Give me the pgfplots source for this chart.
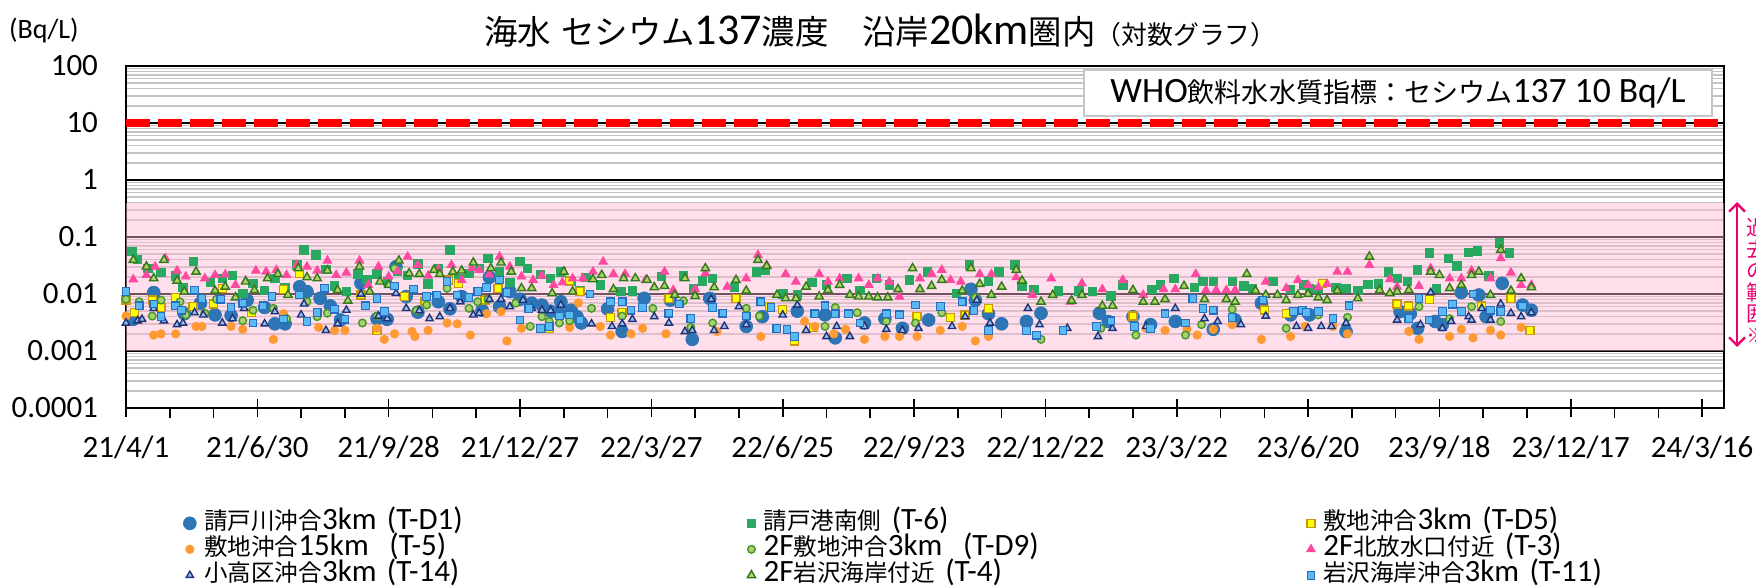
\documentclass[border=0pt]{standalone}
\usepackage{fontspec}
\setmainfont{Carlito}
\newfontfamily\cjk[Scale=0.76]{Noto Sans CJK JP}
\usepackage{pgfplots}
\pgfplotsset{compat=1.18}
\usetikzlibrary{arrows.meta}
\newcommand{\J}[1]{{\cjk #1}}
\definecolor{cA}{RGB}{46,117,182}
\definecolor{cB}{RGB}{40,168,96}
\definecolor{cCf}{RGB}{255,255,0}
\definecolor{cCd}{RGB}{200,150,20}
\definecolor{cD}{RGB}{255,153,51}
\definecolor{cEf}{RGB}{169,208,110}
\definecolor{cEd}{RGB}{70,150,40}
\definecolor{cF}{RGB}{255,72,160}
\definecolor{cGf}{RGB}{150,195,235}
\definecolor{cGd}{RGB}{35,50,120}
\definecolor{cHf}{RGB}{175,210,100}
\definecolor{cHd}{RGB}{50,120,30}
\definecolor{cIf}{RGB}{90,185,240}
\definecolor{cId}{RGB}{40,110,190}
\definecolor{gridgray}{RGB}{195,195,195}
\definecolor{bandpink}{RGB}{255,185,212}
\definecolor{annopink}{RGB}{235,0,110}
\begin{document}
\begin{tikzpicture}
\begin{axis}[
  at={(0,0)}, anchor=south west,
  width=799pt, height=171pt, scale only axis,
  xmin=0, xmax=1095, ymode=log, ymin=1e-4, ymax=100,
  axis line style={black, line width=1pt},
  xtick={0,90,...,1080},
  xticklabels={21/4/1,21/6/30,21/9/28,21/12/27,22/3/27,22/6/25,22/9/23,22/12/22,23/3/22,23/6/20,23/9/18,23/12/17,24/3/16},
  minor x tick num=2,
  xtick pos=left,
  tick align=center,
  major tick length=9pt,
  minor tick length=5pt,
  xtick style={black, line width=0.8pt},
  minor x tick style={yshift=-2.5pt},
  ytick={1e-4,1e-3,1e-2,1e-1,1,10,100},
  yticklabels={0.0001,0.001,0.01,0.1,1,10,100},
  minor ytick={2e-4,3e-4,4e-4,5e-4,6e-4,7e-4,8e-4,9e-4,2e-3,3e-3,4e-3,5e-3,6e-3,7e-3,8e-3,9e-3,0.02,0.03,0.04,0.05,0.06,0.07,0.08,0.09,0.2,0.3,0.4,0.5,0.6,0.7,0.8,0.9,2,3,4,5,6,7,8,9,20,30,40,50,60,70,80,90},
  ytick style={draw=none},
  ymajorgrids, yminorgrids,
  major grid style={black, line width=0.8pt},
  minor grid style={gridgray, line width=0.8pt},
  tick label style={font=\fontsize{15.5}{18}\selectfont},
  xticklabel style={yshift=-6pt},
  yticklabel style={xshift=-6pt},
  legend columns=3,
  legend image code/.code={\draw[#1] plot coordinates {(0pt,0pt)};},
  legend style={draw=none, fill=none, at={(0.0357,-0.298)}, anchor=north west,
    inner sep=0pt, row sep=0pt,
    /tikz/every odd column/.append style={column sep=4pt},
    nodes={text width=271.5pt, inner xsep=0pt, inner ysep=0pt, minimum height=13pt,
      text height=8.5pt, text depth=2.5pt,
      font=\fontsize{15.5}{15}\selectfont, align=left},
    cells={anchor=west}},
]
\fill[bandpink, opacity=0.45] (axis cs:0,0.001) rectangle (axis cs:1095,0.4);
\addplot[forget plot, red, line width=4.3pt, dash pattern=on 12pt off 4pt] coordinates {(0,10) (1095,10)};

% T-D1
\addplot[only marks, mark=*, mark size=3.2pt, draw=cA, fill=cA] coordinates {
(5,0.0036) (19,0.0106) (40,0.0045) (51,0.0069) (61,0.0043) (72,0.0042) (83,0.0078) (95,0.0058) (102,0.0030) (109,0.0030) (119,0.0134) (124,0.0110) (133,0.0084) (140,0.0062) (147,0.0035) (161,0.0154) (172,0.0037) (179,0.0036) (185,0.0300) (192,0.0090) (200,0.0048) (214,0.0073) (222,0.0055) (230,0.0090) (244,0.0052) (249,0.0196) (256,0.0060) (263,0.0110) (270,0.0081) (278,0.0069) (285,0.0064) (291,0.0050) (297,0.0046) (298,0.0073) (305,0.0052) (309,0.0040) (312,0.0031) (330,0.0055) (340,0.0022) (355,0.0084) (373,0.0078) (388,0.0016) (400,0.0084) (425,0.0027) (436,0.0040) (460,0.0050) (479,0.0043) (486,0.0017) (506,0.0031) (520,0.0037) (532,0.0025) (550,0.0035) (579,0.0121) (582,0.0078) (591,0.0045) (600,0.0030) (617,0.0033) (627,0.0046) (667,0.0046) (673,0.0033) (690,0.0040) (702,0.0029) (719,0.0033) (745,0.0024) (760,0.0035) (778,0.0069) (798,0.0043) (811,0.0043) (836,0.0022) (873,0.0049) (880,0.0045) (885,0.0025) (897,0.0033) (902,0.0029) (915,0.0106) (927,0.0096) (932,0.0040) (943,0.0154) (957,0.0064) (963,0.0052)};
\addlegendentry{\J{請戸川沖合}3km (T-D1)}
% T-6
\addplot[only marks, mark=square*, mark size=2.1pt, draw=cB, fill=cB] coordinates {
(4,0.0553) (8,0.0400) (15,0.0282) (24,0.0240) (34,0.0207) (39,0.0131) (46,0.0369) (58,0.0160) (66,0.0188) (73,0.0210) (80,0.0103) (87,0.0154) (95,0.0117) (102,0.0190) (109,0.0130) (117,0.0323) (122,0.0591) (130,0.0483) (137,0.0270) (143,0.0138) (151,0.0110) (159,0.0224) (165,0.0180) (172,0.0224) (179,0.0165) (186,0.0250) (193,0.0210) (200,0.0340) (207,0.0150) (214,0.0280) (222,0.0591) (228,0.0190) (235,0.0230) (242,0.0282) (248,0.0423) (256,0.0246) (263,0.0160) (270,0.0370) (275,0.0282) (284,0.0220) (291,0.0190) (298,0.0246) (305,0.0165) (311,0.0117) (315,0.0196) (325,0.0144) (339,0.0110) (347,0.0114) (367,0.0202) (382,0.0207) (389,0.0126) (395,0.0171) (402,0.0188) (417,0.0131) (432,0.0246) (438,0.0257) (450,0.0100) (460,0.0096) (470,0.0158) (480,0.0144) (494,0.0188) (503,0.0117) (514,0.0188) (523,0.0144) (537,0.0176) (549,0.0246) (569,0.0103) (578,0.0323) (591,0.0171) (598,0.0246) (609,0.0323) (614,0.0138) (622,0.0121) (639,0.0114) (653,0.0114) (662,0.0110) (675,0.0092) (683,0.0144) (703,0.0121) (709,0.0144) (718,0.0188) (732,0.0131) (738,0.0165) (745,0.0165) (758,0.0165) (766,0.0138) (772,0.0126) (786,0.0165) (798,0.0121) (807,0.0144) (811,0.0126) (817,0.0121) (829,0.0131) (836,0.0126) (844,0.0117) (851,0.0148) (858,0.0150) (865,0.0246) (871,0.0188) (878,0.0165) (885,0.0264) (893,0.0530) (898,0.0126) (906,0.0423) (912,0.0310) (920,0.0540) (926,0.0570) (934,0.0207) (941,0.0790) (948,0.0530)};
\addlegendentry{\J{請戸港南側} (T-6)}
% T-D5
\addplot[only marks, mark=square*, mark size=2.0pt, draw=cCd, fill=cCf, mark options={line width=0.7pt}] coordinates {
(0,0.0078) (6,0.0047) (18,0.0078) (24,0.0058) (34,0.0087) (46,0.0060) (60,0.0067) (66,0.0126) (86,0.0047) (108,0.0121) (119,0.0230) (161,0.0096) (172,0.0023) (191,0.0090) (205,0.0073) (221,0.0176) (228,0.0154) (246,0.0078) (255,0.0126) (290,0.0025) (304,0.0170) (311,0.0110) (332,0.0039) (340,0.0047) (372,0.0084) (418,0.0084) (441,0.0060) (450,0.0054) (458,0.0015) (471,0.0026) (542,0.0040) (565,0.0039) (575,0.0043) (591,0.0056) (690,0.0041) (780,0.0052) (795,0.0046) (820,0.0154) (871,0.0067) (879,0.0062) (893,0.0081) (929,0.0062) (949,0.0084) (962,0.0023)};
\addlegendentry{\J{敷地沖合}3km (T-D5)}
% T-5
\addplot[only marks, mark=*, mark size=2.1pt, draw=cD, fill=cD] coordinates {
(0,0.0041) (19,0.0019) (24,0.0020) (34,0.0020) (48,0.0027) (52,0.0027) (72,0.0027) (80,0.0024) (101,0.0016) (108,0.0045) (132,0.0026) (143,0.0023) (150,0.0023) (172,0.0025) (177,0.0016) (184,0.0020) (196,0.0022) (198,0.0018) (207,0.0023) (220,0.0031) (227,0.0030) (236,0.0019) (247,0.0045) (257,0.0049) (261,0.0015) (271,0.0025) (304,0.0026) (310,0.0070) (325,0.0027) (332,0.0019) (346,0.0020) (354,0.0025) (370,0.0020) (405,0.0022) (435,0.0018) (465,0.0033) (472,0.0027) (485,0.0020) (493,0.0024) (506,0.0016) (520,0.0018) (530,0.0018) (542,0.0018) (558,0.0023) (573,0.0027) (582,0.0015) (591,0.0018) (699,0.0025) (712,0.0023) (727,0.0024) (734,0.0019) (745,0.0024) (758,0.0029) (778,0.0016) (798,0.0018) (808,0.0027) (827,0.0027) (837,0.0020) (879,0.0022) (886,0.0016) (907,0.0018) (915,0.0024) (923,0.0017) (935,0.0023) (942,0.0019) (956,0.0026)};
\addlegendentry{\J{敷地沖合}15km\ \ (T-5)}
% T-D9
\addplot[only marks, mark=*, mark size=1.9pt, draw=cEd, fill=cEf, mark options={line width=0.7pt}] coordinates {
(0,0.0081) (9,0.0073) (18,0.0041) (24,0.0078) (37,0.0073) (41,0.0043) (54,0.0046) (62,0.0081) (80,0.0034) (87,0.0052) (101,0.0056) (110,0.0037) (124,0.0073) (131,0.0040) (138,0.0046) (162,0.0031) (172,0.0041) (184,0.0282) (199,0.0051) (206,0.0064) (220,0.0126) (235,0.0056) (241,0.0073) (248,0.0081) (267,0.0069) (277,0.0027) (285,0.0040) (290,0.0033) (297,0.0031) (304,0.0034) (319,0.0056) (340,0.0041) (361,0.0056) (382,0.0076) (387,0.0026) (402,0.0031) (425,0.0056) (434,0.0041) (479,0.0027) (486,0.0058) (501,0.0047) (521,0.0033) (541,0.0031) (559,0.0047) (582,0.0087) (627,0.0016) (668,0.0025) (692,0.0019) (726,0.0019) (737,0.0029) (758,0.0054) (795,0.0025) (817,0.0043) (837,0.0039) (886,0.0060) (907,0.0037) (922,0.0060) (942,0.0033)};
\addlegendentry{2F\J{敷地沖合}3km\ \ (T-D9)}
% T-3
\addplot[only marks, mark=triangle*, mark size=2.5pt, draw=cF, fill=cF] coordinates {
(5,0.0180) (14,0.0215) (20,0.0300) (27,0.0423) (35,0.0257) (41,0.0202) (54,0.0188) (61,0.0215) (68,0.0220) (75,0.0144) (82,0.0170) (89,0.0257) (96,0.0246) (103,0.0264) (110,0.0215) (117,0.0323) (124,0.0302) (131,0.0257) (138,0.0385) (144,0.0215) (151,0.0237) (160,0.0385) (166,0.0144) (173,0.0302) (180,0.0202) (186,0.0250) (193,0.0452) (200,0.0323) (207,0.0210) (214,0.0270) (223,0.0323) (230,0.0176) (237,0.0282) (242,0.0264) (249,0.0220) (256,0.0452) (263,0.0302) (271,0.0202) (279,0.0176) (285,0.0210) (293,0.0144) (299,0.0160) (306,0.0188) (313,0.0188) (320,0.0246) (327,0.0369) (334,0.0224) (342,0.0224) (356,0.0176) (369,0.0246) (375,0.0117) (390,0.0121) (397,0.0230) (412,0.0134) (425,0.0188) (433,0.0483) (439,0.0323) (452,0.0224) (459,0.0165) (475,0.0224) (481,0.0165) (489,0.0188) (502,0.0188) (509,0.0144) (515,0.0188) (523,0.0165) (530,0.0090) (544,0.0188) (552,0.0224) (559,0.0264) (565,0.0176) (572,0.0165) (585,0.0224) (593,0.0224) (610,0.0196) (621,0.0096) (634,0.0188) (647,0.0073) (655,0.0154) (669,0.0121) (683,0.0176) (697,0.0096) (711,0.0121) (719,0.0121) (733,0.0224) (740,0.0117) (747,0.0117) (754,0.0117) (760,0.0117) (781,0.0165) (795,0.0126) (803,0.0176) (810,0.0144) (817,0.0131) (823,0.0150) (830,0.0246) (837,0.0246) (852,0.0323) (866,0.0181) (871,0.0134) (886,0.0138) (894,0.0282) (907,0.0188) (915,0.0188) (922,0.0257) (935,0.0188) (942,0.0423) (949,0.0237) (956,0.0144) (963,0.0144)};
\addlegendentry{2F\J{北放水口付近} (T-3)}
% T-14
\addplot[only marks, mark=triangle*, mark size=2.1pt, draw=cGd, fill=cGf, mark options={line width=0.7pt}] coordinates {
(0,0.0031) (8,0.0034) (11,0.0036) (19,0.0056) (26,0.0034) (35,0.0029) (39,0.0031) (47,0.0047) (53,0.0043) (66,0.0031) (73,0.0037) (81,0.0056) (95,0.0030) (102,0.0049) (120,0.0043) (122,0.0067) (137,0.0023) (145,0.0030) (151,0.0052) (161,0.0100) (173,0.0041) (179,0.0037) (185,0.0103) (192,0.0056) (201,0.0051) (208,0.0037) (215,0.0040) (222,0.0056) (229,0.0073) (238,0.0043) (242,0.0046) (249,0.0081) (257,0.0081) (263,0.0060) (272,0.0078) (278,0.0056) (285,0.0052) (291,0.0051) (298,0.0064) (319,0.0030) (333,0.0027) (340,0.0030) (347,0.0036) (362,0.0040) (372,0.0031) (383,0.0022) (388,0.0023) (401,0.0081) (403,0.0023) (410,0.0027) (420,0.0060) (425,0.0029) (450,0.0043) (460,0.0064) (466,0.0023) (480,0.0018) (487,0.0027) (496,0.0018) (506,0.0027) (521,0.0024) (532,0.0023) (543,0.0025) (566,0.0027) (575,0.0040) (583,0.0078) (592,0.0031) (618,0.0056) (626,0.0029) (645,0.0025) (666,0.0018) (676,0.0025) (699,0.0027) (719,0.0056) (739,0.0037) (748,0.0033) (764,0.0029) (781,0.0041) (802,0.0027) (810,0.0025) (819,0.0027) (826,0.0027) (836,0.0031) (871,0.0035) (887,0.0029) (894,0.0106) (902,0.0025) (908,0.0033) (920,0.0040) (922,0.0035) (929,0.0056) (935,0.0035) (942,0.0067) (949,0.0046) (956,0.0040) (963,0.0047)};
\addlegendentry{\J{小高区沖合}3km (T-14)}
% T-4
\addplot[only marks, mark=triangle*, mark size=2.4pt, draw=cHd, fill=cHf, mark options={line width=0.7pt}] coordinates {
(5,0.0395) (14,0.0302) (19,0.0188) (26,0.0395) (35,0.0171) (40,0.0110) (48,0.0246) (61,0.0114) (68,0.0134) (75,0.0087) (82,0.0165) (88,0.0117) (97,0.0188) (104,0.0224) (111,0.0096) (118,0.0282) (124,0.0196) (131,0.0188) (138,0.0257) (145,0.0117) (152,0.0076) (160,0.0302) (167,0.0110) (174,0.0165) (180,0.0144) (187,0.0385) (194,0.0230) (201,0.0224) (211,0.0264) (215,0.0224) (224,0.0246) (230,0.0257) (238,0.0355) (250,0.0282) (257,0.0355) (264,0.0246) (271,0.0126) (278,0.0126) (292,0.0103) (300,0.0246) (306,0.0110) (320,0.0181) (326,0.0215) (334,0.0121) (341,0.0188) (349,0.0188) (357,0.0176) (362,0.0131) (369,0.0138) (376,0.0096) (383,0.0188) (390,0.0092) (397,0.0282) (403,0.0131) (418,0.0176) (425,0.0114) (433,0.0395) (439,0.0310) (446,0.0096) (452,0.0084) (459,0.0084) (466,0.0134) (475,0.0090) (481,0.0117) (489,0.0144) (496,0.0096) (502,0.0090) (509,0.0090) (515,0.0087) (522,0.0087) (529,0.0121) (539,0.0282) (544,0.0121) (552,0.0138) (559,0.0176) (573,0.0114) (579,0.0282) (585,0.0150) (593,0.0096) (600,0.0134) (610,0.0264) (614,0.0171) (627,0.0073) (635,0.0096) (648,0.0076) (655,0.0096) (669,0.0062) (676,0.0062) (690,0.0117) (697,0.0073) (705,0.0073) (712,0.0081) (725,0.0138) (739,0.0081) (754,0.0081) (760,0.0073) (768,0.0224) (774,0.0114) (781,0.0096) (789,0.0096) (795,0.0078) (803,0.0096) (810,0.0100) (817,0.0087) (823,0.0078) (830,0.0114) (844,0.0084) (852,0.0452) (859,0.0117) (866,0.0103) (871,0.0110) (879,0.0117) (894,0.0246) (900,0.0215) (907,0.0126) (915,0.0144) (922,0.0215) (927,0.0246) (935,0.0096) (942,0.0591) (949,0.0114) (956,0.0188) (963,0.0131)};
\addlegendentry{2F\J{岩沢海岸付近} (T-4)}
% T-11
\addplot[only marks, mark=square*, mark size=1.9pt, draw=cId, fill=cIf, mark options={line width=0.6pt}] coordinates {
(0,0.0110) (9,0.0062) (19,0.0067) (24,0.0040) (34,0.0062) (38,0.0052) (47,0.0117) (52,0.0084) (65,0.0081) (72,0.0058) (80,0.0069) (87,0.0031) (94,0.0062) (100,0.0090) (108,0.0036) (119,0.0096) (124,0.0033) (131,0.0047) (136,0.0126) (143,0.0054) (150,0.0036) (164,0.0062) (172,0.0084) (177,0.0049) (184,0.0138) (197,0.0121) (206,0.0090) (213,0.0096) (220,0.0165) (227,0.0096) (235,0.0087) (241,0.0110) (247,0.0131) (256,0.0176) (261,0.0106) (270,0.0035) (276,0.0056) (284,0.0025) (290,0.0027) (297,0.0041) (304,0.0043) (311,0.0035) (318,0.0100) (332,0.0073) (340,0.0073) (346,0.0052) (354,0.0058) (372,0.0046) (379,0.0067) (387,0.0037) (402,0.0058) (409,0.0046) (425,0.0041) (435,0.0073) (442,0.0058) (446,0.0025) (453,0.0024) (458,0.0018) (472,0.0045) (479,0.0062) (486,0.0045) (495,0.0045) (503,0.0031) (521,0.0045) (530,0.0043) (541,0.0064) (558,0.0060) (573,0.0073) (581,0.0051) (591,0.0023) (617,0.0023) (624,0.0019) (642,0.0023) (665,0.0027) (675,0.0034) (691,0.0027) (702,0.0025) (712,0.0045) (726,0.0031) (731,0.0084) (738,0.0056) (745,0.0052) (758,0.0039) (779,0.0078) (800,0.0049) (806,0.0052) (809,0.0047) (817,0.0049) (827,0.0037) (838,0.0062) (879,0.0037) (886,0.0084) (893,0.0035) (902,0.0049) (909,0.0066) (915,0.0049) (923,0.0100) (935,0.0052) (942,0.0049) (957,0.0062)};
\addlegendentry{\J{岩沢海岸沖合}3km (T-11)}

\node[draw=gray!45, line width=1pt, fill=white, minimum width=314pt, minimum height=23pt, inner sep=0pt, font=\fontsize{17.8}{20}\selectfont] at (axis description cs:0.796,0.921) {WHO\J{飲料水水質指標：セシウム}137 10 Bq/L};
\end{axis}
\node[anchor=west, inner sep=0pt] at (179pt,188.5pt) {{\fontsize{22}{24}\selectfont\J{海水} \J{セシウム}137\J{濃度　沿岸}20km\J{圏内}}{\fontsize{17}{18}\selectfont\J{（対数グラフ）}}};
\node[font=\fontsize{14}{16}\selectfont, inner sep=0pt] at (-41pt,188.5pt) {(Bq/L)};
\draw[{Straight Barb[length=4pt,width=8pt]}-{Straight Barb[length=4pt,width=8pt]}, annopink, line width=1.2pt] (805.5pt,103pt) -- (805.5pt,30.5pt);
\node[overlay, annopink, font={\cjk\fontsize{13.8}{10.8}\selectfont}, align=center, inner sep=0pt] at (815.5pt,63.5pt) {過\\去\\の\\範\\囲\\※};
\pgfresetboundingbox
\useasboundingbox (-63pt,-90pt) rectangle (815pt,204pt);
\end{tikzpicture}
\end{document}
